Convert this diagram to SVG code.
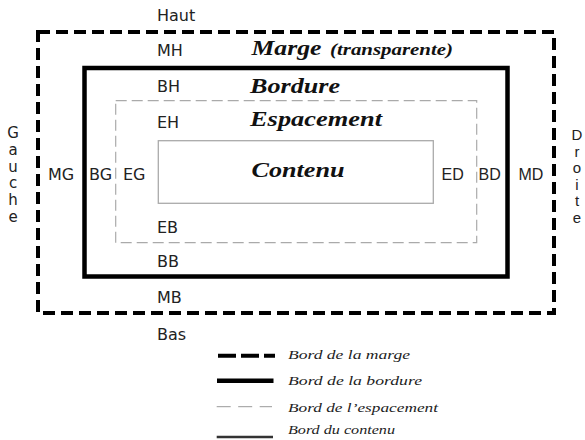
<svg xmlns="http://www.w3.org/2000/svg" width="585" height="440" viewBox="0 0 585 440">
<style>
.bg{fill:#fff}
.margin{fill:none;stroke:#000;stroke-width:4;stroke-dasharray:12 6}
.border{fill:none;stroke:#000;stroke-width:4.5}
.padding{fill:none;stroke:#aaa;stroke-width:1.2;stroke-dasharray:11 5}
.content{fill:none;stroke:#aaa;stroke-width:1.3}
.lbl{font-family:"DejaVu Sans",sans-serif;font-size:16px;fill:#222}
.lblr{font-family:"Liberation Sans",Arial,sans-serif;font-size:16px;fill:#222}
.side{font-family:"DejaVu Sans",sans-serif;font-size:15px;fill:#222;text-anchor:middle}
.sider{font-family:"Liberation Sans",Arial,sans-serif;font-size:15px;fill:#222;text-anchor:middle}
.title{font-family:"Liberation Serif","Times New Roman",serif;font-size:22px;font-weight:bold;font-style:italic;fill:#111}
.sub{font-family:"Liberation Serif","Times New Roman",serif;font-size:16px;font-weight:bold;font-style:italic;fill:#111}
.leg{font-family:"Liberation Serif","Times New Roman",serif;font-size:13.5px;font-style:italic;fill:#222}
</style>
<rect class="bg" x="0" y="0" width="585" height="440"/>
<g id="marge">
  <rect class="margin" x="38" y="32" width="516" height="281"/>
  <text class="lbl" x="157" y="21">Haut</text>
  <text class="lbl" x="157" y="55.5">MH</text>
  <text class="lbl" x="48" y="179.5">MG</text>
  <text class="lblr" x="518.5" y="180">MD</text>
  <text class="lbl" x="157" y="302.5">MB</text>
  <text class="lbl" x="157" y="340">Bas</text>
  <text class="title" x="251.5" y="55" textLength="70" lengthAdjust="spacingAndGlyphs">Marge</text>
  <text class="sub" x="330" y="55" textLength="123" lengthAdjust="spacingAndGlyphs">(transparente)</text>
  <g class="side">
    <text x="13" y="138">G</text>
    <text x="13" y="154.8">a</text>
    <text x="13" y="171.6">u</text>
    <text x="13" y="188.4">c</text>
    <text x="13" y="205.2">h</text>
    <text x="13" y="222">e</text>
  </g>
  <g class="sider">
    <text x="577" y="140">D</text>
    <text x="577" y="156.6">r</text>
    <text x="577" y="173.2">o</text>
    <text x="577" y="189.8">i</text>
    <text x="577" y="206.4">t</text>
    <text x="577" y="223">e</text>
  </g>
</g>
<g id="bordure">
  <rect class="border" x="84.5" y="68" width="423" height="208.5"/>
  <text class="lbl" x="157" y="91.5">BH</text>
  <text class="lbl" x="89" y="179.5">BG</text>
  <text class="lblr" x="478.5" y="180">BD</text>
  <text class="lbl" x="157" y="266.5">BB</text>
  <text class="title" x="250" y="93" textLength="90" lengthAdjust="spacingAndGlyphs">Bordure</text>
</g>
<g id="espacement">
  <rect class="padding" x="115.7" y="100.7" width="361" height="142"/>
  <text class="lbl" x="157" y="128">EH</text>
  <text class="lbl" x="123" y="179.5">EG</text>
  <text class="lblr" x="441.5" y="180">ED</text>
  <text class="lbl" x="157" y="232.5">EB</text>
  <text class="title" x="250" y="125.5" textLength="132" lengthAdjust="spacingAndGlyphs">Espacement</text>
</g>
<g id="contenu">
  <rect class="content" x="158.3" y="140.7" width="275" height="62.6"/>
  <text class="title" x="251.5" y="177" textLength="93" lengthAdjust="spacingAndGlyphs">Contenu</text>
</g>
<g id="connectors"/>
<g id="legende">
  <line x1="218" y1="355.7" x2="275" y2="355.7" stroke="#000" stroke-width="4" stroke-dasharray="18 5"/>
  <text class="leg" x="288" y="359" textLength="122" lengthAdjust="spacingAndGlyphs">Bord de la marge</text>
  <line x1="217" y1="380.7" x2="273.5" y2="380.7" stroke="#000" stroke-width="4.5"/>
  <text class="leg" x="288" y="385" textLength="134" lengthAdjust="spacingAndGlyphs">Bord de la bordure</text>
  <line x1="216.7" y1="406.7" x2="272" y2="406.7" stroke="#999" stroke-width="1" stroke-dasharray="14 7.5"/>
  <text class="leg" x="288" y="411.5" textLength="150" lengthAdjust="spacingAndGlyphs">Bord de l’espacement</text>
  <line x1="216.7" y1="437" x2="273" y2="437" stroke="#333" stroke-width="2.5"/>
  <text class="leg" x="288" y="434" textLength="107" lengthAdjust="spacingAndGlyphs">Bord du contenu</text>
</g>
</svg>
